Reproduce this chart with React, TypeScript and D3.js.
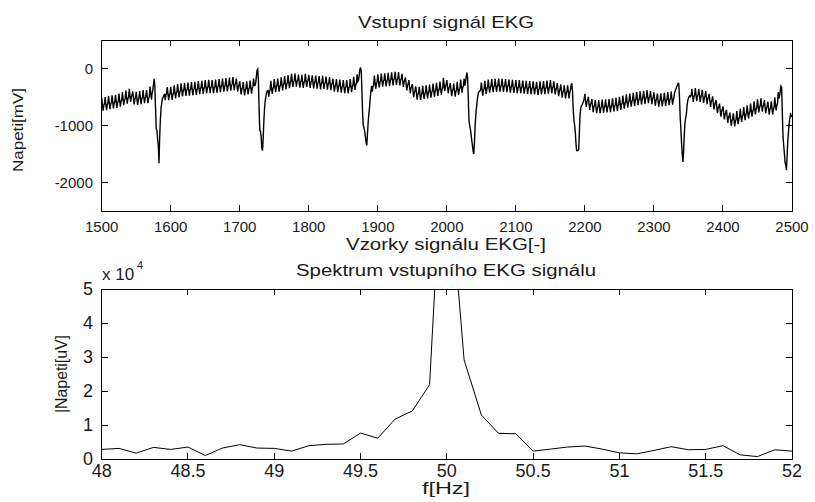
import React from 'react';
import * as d3 from 'd3';

// ---------- DATA ----------
// EKG: slow component read every 5 samples (mV), samples 1500..2500
const ecgStart = 1500;
const ecgEnd = 2500;
const ecgStep = 5;
const ecgBaseline = [
  -635, -625, -610, -595, -585, -565, -540, -510, -480, -525,
  -535, -520, -505, -505, -440, -420, -450, -450, -450, -450,
  -445, -420, -400, -385, -375, -370, -365, -360, -345, -340,
  -330, -325, -330, -320, -310, -300, -295, -285, -275, -300,
  -350, -365, -350, -335, -300, -280, -300, -300, -390, -340,
  -310, -300, -280, -260, -240, -220, -215, -230, -235, -220,
  -235, -245, -250, -260, -255, -265, -275, -300, -310, -320,
  -330, -330, -310, -270, -225, -220, -220, -250, -300, -250,
  -225, -215, -210, -200, -190, -185, -190, -220, -280, -330,
  -400, -440, -445, -430, -420, -405, -390, -375, -355, -290,
  -330, -380, -390, -360, -320, -300, -300, -330, -360, -380,
  -370, -340, -320, -310, -305, -300, -305, -310, -320, -325,
  -330, -330, -335, -340, -345, -350, -360, -350, -345, -335,
  -330, -350, -380, -405, -420, -420, -420, -450, -500, -540,
  -570, -620, -660, -680, -680, -670, -665, -660, -650, -640,
  -620, -600, -580, -565, -550, -540, -525, -515, -505, -520,
  -545, -565, -560, -550, -540, -530, -420, -430, -450, -470,
  -480, -480, -470, -480, -500, -520, -570, -615, -680, -740,
  -790, -850, -900, -910, -870, -830, -800, -770, -740, -700,
  -665, -650, -680, -705, -700, -630, -540, -560, -700, -850,
  -900,
];
// 50 Hz mains interference over one period (5 samples), mV
const humPattern = [125, 5, -105, -15, 15];
// QRS complexes: first sample of each window and per-sample values (mV)
const beatStarts = [1573, 1722, 1871, 2026, 2178, 2330, 2481];
const beatValues = [
  [-430, -380, -280, -180, -320, -700, -1050, -1090, -1250, -1350, -1660, -1200, -900, -700, -600, -530, -500, -480],
  [-300, -260, -150, -30, -10, -200, -700, -1090, -1100, -1200, -1400, -1440, -1200, -900, -680, -560, -480, -420, -390],
  [-230, -210, -120, -20, 17, -50, -400, -800, -1000, -1050, -1100, -1200, -1300, -1350, -1150, -950, -800, -680, -520, -400, -310],
  [-300, -250, -150, -70, -150, -500, -900, -1000, -1050, -1150, -1250, -1350, -1450, -1500, -1300, -1000, -800, -680, -560, -470, -420, -400],
  [-420, -380, -300, -260, -400, -700, -900, -980, -1100, -1300, -1440, -1440, -1440, -1420, -1100, -800, -700, -650, -640, -600, -580],
  [-420, -390, -350, -320, -290, -260, -270, -500, -850, -1050, -1300, -1500, -1640, -1450, -1150, -950, -860, -800, -650, -560, -520, -490, -480],
  [-530, -480, -400, -310, -330, -800, -1200, -1350, -1500, -1650, -1700, -1785, -1500, -1250, -1090, -950, -860, -800, -820, -850],
];
const ecgXTicks = [1500, 1600, 1700, 1800, 1900, 2000, 2100, 2200, 2300, 2400, 2500];
const ecgYTicks = [0, -1000, -2000];

// Spectrum |X(f)| in uV
const specFreq = [
  48.0, 48.1, 48.2, 48.3, 48.4, 48.5, 48.6, 48.7, 48.8, 48.9,
  49.0, 49.1, 49.2, 49.3, 49.4, 49.5, 49.6, 49.7, 49.8, 49.9,
  49.95, 50.0, 50.05, 50.1, 50.2, 50.3, 50.4, 50.5, 50.6, 50.7,
  50.8, 50.9, 51.0, 51.1, 51.2, 51.3, 51.4, 51.5, 51.6, 51.7,
  51.8, 51.9, 52.0,
];
const specAmp = [
  2900, 3200, 1800, 3500, 2900, 3600, 1100, 3300, 4300, 3300,
  3200, 2400, 4000, 4400, 4500, 7700, 6200, 11800, 14200, 21900,
  69000, 150000, 60000, 29200, 13000, 7600, 7500, 2400, 3000, 3600,
  3900, 3000, 1900, 1600, 2600, 3700, 2800, 2900, 4000, 1300,
  800, 2800, 2400,
];
const specXTicks = [48, 48.5, 49, 49.5, 50, 50.5, 51, 51.5, 52];
const specYTicks = [0, 10000, 20000, 30000, 40000, 50000];

// ---------- LAYOUT ----------
const W = 815;
const H = 502;
const FONT = '"Liberation Sans", Arial, Helvetica, sans-serif';
const top1 = { left: 101.7, right: 792, top: 40, bottom: 211 };
const top2 = { left: 101.7, right: 792, top: 289, bottom: 459.3 };
const TICK = 6;
const INK = '#1a1a1a';

function buildEcg(): [number, number][] {
  const pts: [number, number][] = [];
  for (let s = ecgStart; s <= ecgEnd; s++) {
    const i = s - ecgStart;
    let v = ecgBaseline[Math.floor(i / ecgStep)] + humPattern[i % humPattern.length];
    for (let b = 0; b < beatStarts.length; b++) {
      const k = s - beatStarts[b];
      if (k >= 0 && k < beatValues[b].length) v = beatValues[b][k];
    }
    pts.push([s, v]);
  }
  return pts;
}

export default function App() {
  const x1 = d3.scaleLinear().domain([1500, 2500]).range([top1.left, top1.right]);
  const y1 = d3.scaleLinear().domain([-2500, 500]).range([top1.bottom, top1.top]);
  const x2 = d3.scaleLinear().domain([48, 52]).range([top2.left, top2.right]);
  const y2 = d3.scaleLinear().domain([0, 50000]).range([top2.bottom, top2.top]);

  const ecg = buildEcg();
  const ecgPath = d3.line<[number, number]>().x((d) => x1(d[0])).y((d) => y1(d[1]))(ecg) || '';
  const specPts: [number, number][] = specFreq.map((f, i) => [f, specAmp[i]]);
  const specPath = d3.line<[number, number]>().x((d) => x2(d[0])).y((d) => y2(d[1]))(specPts) || '';

  const axisBox = (b: typeof top1, xs: number[], ys: number[], xsc: any, ysc: any) => (
    <g stroke="#000" strokeWidth={1} fill="none" shapeRendering="crispEdges">
      <rect x={b.left} y={b.top} width={b.right - b.left} height={b.bottom - b.top} />
      {xs.map((t) => (
        <g key={'x' + t}>
          <line x1={xsc(t)} x2={xsc(t)} y1={b.bottom} y2={b.bottom - TICK} />
          <line x1={xsc(t)} x2={xsc(t)} y1={b.top} y2={b.top + TICK} />
        </g>
      ))}
      {ys.map((t) => (
        <g key={'y' + t}>
          <line x1={b.left} x2={b.left + TICK} y1={ysc(t)} y2={ysc(t)} />
          <line x1={b.right} x2={b.right - TICK} y1={ysc(t)} y2={ysc(t)} />
        </g>
      ))}
    </g>
  );

  return (
    <svg
      width={W}
      height={H}
      viewBox={`0 0 ${W} ${H}`}
      style={{ position: 'absolute', left: 0, top: 0, background: '#fff' }}
      fontFamily={FONT}
    >
      <rect x={0} y={0} width={W} height={H} fill="#fff" />
      <defs>
        <clipPath id="clip2">
          <rect x={top2.left} y={top2.top} width={top2.right - top2.left} height={top2.bottom - top2.top} />
        </clipPath>
        <clipPath id="clip1">
          <rect x={top1.left} y={top1.top} width={top1.right - top1.left} height={top1.bottom - top1.top} />
        </clipPath>
      </defs>

      {/* ---- Top plot ---- */}
      <text x={446} y={28} textAnchor="middle" fontSize={17} textLength={176} lengthAdjust="spacingAndGlyphs" fill={INK}>
        Vstupní signál EKG
      </text>
      <path d={ecgPath} fill="none" stroke="#000" strokeWidth={1.4} strokeLinejoin="miter" clipPath="url(#clip1)" />
      {axisBox(top1, ecgXTicks, ecgYTicks, x1, y1)}
      {ecgXTicks.map((t) => (
        <text key={'xl' + t} x={x1(t)} y={232} textAnchor="middle" fontSize={15} fill={INK}>
          {t}
        </text>
      ))}
      {ecgYTicks.map((t) => (
        <text key={'yl' + t} x={93} y={y1(t) + 5} textAnchor="end" fontSize={15} fill={INK}>
          {t}
        </text>
      ))}
      <text x={446} y={250} textAnchor="middle" fontSize={16} textLength={200} lengthAdjust="spacingAndGlyphs" fill={INK}>
        Vzorky signálu EKG[-]
      </text>
      <text transform="translate(23,130) rotate(-90)" textAnchor="middle" fontSize={15} textLength={84} lengthAdjust="spacingAndGlyphs" fill={INK}>
        Napeti[mV]
      </text>

      {/* ---- Bottom plot ---- */}
      <text x={446} y={276} textAnchor="middle" fontSize={16} textLength={300} lengthAdjust="spacingAndGlyphs" fill={INK}>
        Spektrum vstupního EKG signálu
      </text>
      <path d={specPath} fill="none" stroke="#000" strokeWidth={1} clipPath="url(#clip2)" />
      {axisBox(top2, specXTicks, specYTicks, x2, y2)}
      {specXTicks.map((t) => (
        <text key={'sx' + t} x={x2(t)} y={477} textAnchor="middle" fontSize={18} fill={INK}>
          {t}
        </text>
      ))}
      {specYTicks.map((t) => (
        <text key={'sy' + t} x={93} y={y2(t) + 6} textAnchor="end" fontSize={18} fill={INK}>
          {t / 10000}
        </text>
      ))}
      <text x={102} y={280} fontSize={17} fill={INK}>
        x 10
      </text>
      <text x={137} y={269} fontSize={11} fill={INK}>
        4
      </text>
      <text x={446} y={494} textAnchor="middle" fontSize={16} textLength={48} lengthAdjust="spacingAndGlyphs" fill={INK}>
        f[Hz]
      </text>
      <text transform="translate(67,374) rotate(-90)" textAnchor="middle" fontSize={17} textLength={78} lengthAdjust="spacingAndGlyphs" fill={INK}>
        |Napeti[uV]
      </text>
    </svg>
  );
}
